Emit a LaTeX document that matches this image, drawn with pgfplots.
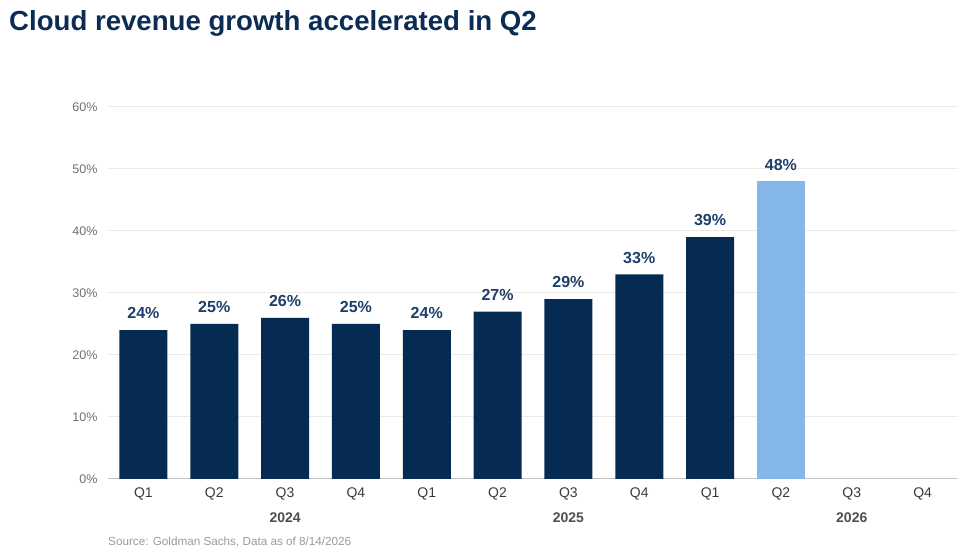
\documentclass[border=0pt]{standalone}
\usepackage{pgfplots}
\pgfplotsset{compat=1.18}
\usepackage{fontspec}
\setmainfont{Liberation Sans}
\definecolor{navy}{HTML}{062B52}
\definecolor{lightbar}{HTML}{86B7E9}
\definecolor{titlecol}{HTML}{0B2D55}
\definecolor{valcol}{HTML}{1D3E6A}
\definecolor{gridcol}{HTML}{EAEAE6}
\definecolor{axiscol}{HTML}{C4C4C0}
\definecolor{ticklab}{HTML}{707070}
\definecolor{xlab}{HTML}{3A3A3A}
\definecolor{srccol}{HTML}{9A9A9A}
\begin{document}
\begin{tikzpicture}[x=1pt,y=1pt]
\useasboundingbox (0,0) rectangle (975,553);
\node[anchor=base west, inner sep=0, font=\fontsize{27.6}{32}\selectfont\bfseries, text=titlecol] at (9,522) {Cloud revenue growth accelerated in Q2};
\begin{axis}[
  at={(108pt,74pt)}, anchor=south west,
  scale only axis, width=850pt, height=372pt,
  xmin=-0.5, xmax=11.5, ymin=0, ymax=60,
  ybar, bar width=48pt,
  xtick={0,...,11},
  xticklabels={Q1,Q2,Q3,Q4,Q1,Q2,Q3,Q4,Q1,Q2,Q3,Q4},
  ytick={0,10,...,60},
  yticklabel={\pgfmathprintnumber{\tick}\%},
  /pgf/number format/assume math mode=true,
  axis line style={draw=none},
  axis x line*=bottom,
  major tick length=0pt,
  ymajorgrids, grid style={gridcol, line width=1pt},
  tick label style={font=\fontsize{14}{16}\selectfont},
  yticklabel style={font=\fontsize{12.5}{14}\selectfont, text=ticklab, xshift=-7pt},
  xticklabel style={text=xlab, yshift=-5pt},
  clip=false,
  nodes near coords={\pgfmathprintnumber{\pgfplotspointmeta}\%},
  nodes near coords style={font=\fontsize{16}{19}\selectfont\bfseries, text=valcol, inner sep=0pt, anchor=south, yshift=11pt},
]
\draw[axiscol, line width=1pt] (axis cs:-0.5,0) -- (axis cs:11.5,0);
\addplot[fill=navy, draw=none, bar shift=0pt] coordinates {(0,24) (1,25) (2,26) (3,25) (4,24) (5,27) (6,29) (7,33) (8,39)};
\addplot[fill=lightbar, draw=none, bar shift=0pt] coordinates {(9,48)};
\node[font=\fontsize{14}{16}\selectfont\bfseries, text=xlab!90, anchor=base] at (axis cs:2,0) [yshift=-44pt] {2024};
\node[font=\fontsize{14}{16}\selectfont\bfseries, text=xlab!90, anchor=base] at (axis cs:6,0) [yshift=-44pt] {2025};
\node[font=\fontsize{14}{16}\selectfont\bfseries, text=xlab!90, anchor=base] at (axis cs:10,0) [yshift=-44pt] {2026};
\end{axis}
\node[anchor=base west, inner sep=0, font=\fontsize{11.7}{14}\selectfont, text=srccol] at (108,7) {Source: Goldman Sachs, Data as of 8/14/2026};
\end{tikzpicture}
\end{document}
